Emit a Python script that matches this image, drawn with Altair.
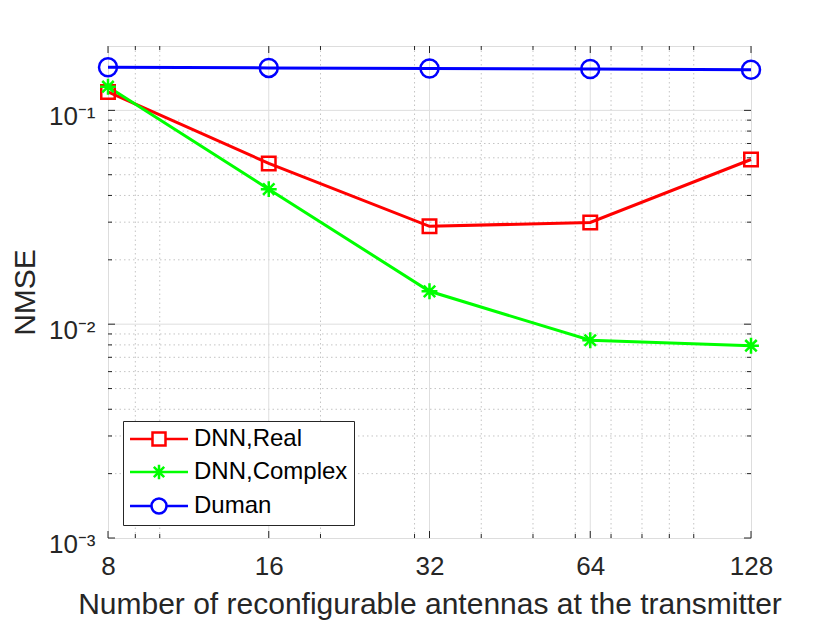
import altair as alt
import pandas as pd

# ---- data ----
N = [8, 16, 32, 64, 128]
dnn_real = [0.122, 0.0565, 0.0287, 0.0299, 0.0589]
dnn_complex = [0.129, 0.0428, 0.01425, 0.00841, 0.00793]
duman = [0.159, 0.158, 0.157, 0.156, 0.155]
SERIES = ["DNN,Real", "DNN,Complex", "Duman"]
COLORS = ["#ff0000", "#00ff00", "#0000ff"]

X_MAJOR = [8, 16, 32, 64, 128]
X_MINOR = [9, 10, 20, 30, 40, 50, 60, 70, 80, 90, 100]
Y_MAJOR = [0.001, 0.01, 0.1]
Y_MINOR = [0.002, 0.003, 0.004, 0.005, 0.006, 0.007, 0.008, 0.009,
           0.02, 0.03, 0.04, 0.05, 0.06, 0.07, 0.08, 0.09]
X_TITLE = "Number of reconfigurable antennas at the transmitter"
Y_TITLE = "NMSE"

W, H = 643, 492
FONT = "Liberation Sans"
AX = "#262626"

rows = []
for name, vals in zip(SERIES, [dnn_real, dnn_complex, duman]):
    for n, v in zip(N, vals):
        rows.append({"N": n, "NMSE": v, "series": name})
df = pd.DataFrame(rows)

xscale = alt.Scale(type="log", base=2, domain=[8, 128], nice=False)
yscale = alt.Scale(type="log", domain=[0.001, 0.2], nice=False)

x_axis = alt.Axis(values=X_MAJOR, ticks=False, grid=False, domain=False,
                  labelFontSize=26, labelPadding=15, labelFlush=False,
                  labelOverlap=False, labelColor=AX, labelFont=FONT,
                  title=X_TITLE, titleFontSize=30, titleFont=FONT,
                  titleFontWeight="normal", titleColor=AX, titlePadding=10)
y_axis = alt.Axis(values=Y_MAJOR, ticks=False, grid=False, domain=False,
                  labelExpr="datum.value < 0.005 ? '10\u207b\u00b3' : (datum.value < 0.05 ? '10\u207b\u00b2' : '10\u207b\u00b9')",
                  labelFontSize=26, labelPadding=13, labelFlush=False,
                  labelOverlap=False, labelColor=AX, labelFont=FONT,
                  labelOffset=6,
                  title=Y_TITLE, titleFontSize=30, titleFont=FONT,
                  titleFontWeight="normal", titleColor=AX, titlePadding=8)

def X(field):
    return alt.X(field, scale=xscale, axis=x_axis)

def Y(field):
    return alt.Y(field, scale=yscale, axis=y_axis)

def vgrid(vals, color, dash):
    d = pd.DataFrame({"v": vals})
    return alt.Chart(d).mark_rule(color=color, strokeWidth=1, strokeDash=dash).encode(x=X("v:Q"))

def hgrid(vals, color, dash):
    d = pd.DataFrame({"v": vals})
    return alt.Chart(d).mark_rule(color=color, strokeWidth=1, strokeDash=dash).encode(y=Y("v:Q"))

def xticks(vals, length):
    d = pd.DataFrame({"v": vals})
    base = alt.Chart(d).mark_rule(color=AX, strokeWidth=1)
    bot = base.encode(x=X("v:Q"), y=alt.value(H), y2=alt.value(H - length))
    top = base.encode(x=X("v:Q"), y=alt.value(0), y2=alt.value(length))
    return [bot, top]

def yticks(vals, length):
    d = pd.DataFrame({"v": vals})
    base = alt.Chart(d).mark_rule(color=AX, strokeWidth=1)
    left = base.encode(y=Y("v:Q"), x=alt.value(0), x2=alt.value(length))
    right = base.encode(y=Y("v:Q"), x=alt.value(W), x2=alt.value(W - length))
    return [left, right]

MINOR_C, MAJOR_C = "#c4c4c4", "#dedede"
grids = [vgrid(X_MINOR, MINOR_C, [1.5, 3]), hgrid(Y_MINOR, MINOR_C, [1.5, 3]),
         vgrid(X_MAJOR[1:-1], MAJOR_C, [1, 0]), hgrid(Y_MAJOR[1:], MAJOR_C, [1, 0])]
ticks = xticks(X_MAJOR, 7) + xticks(X_MINOR, 4) + yticks(Y_MAJOR, 7) + yticks(Y_MINOR, 4)

lines = alt.Chart(df).mark_line(strokeWidth=3).encode(
    x=X("N:Q"), y=Y("NMSE:Q"),
    color=alt.Color("series:N", scale=alt.Scale(domain=SERIES, range=COLORS), legend=None),
    detail="series:N",
)

AST = "M-1,0H1M0,-1V1M-0.72,-0.72L0.72,0.72M-0.72,0.72L0.72,-0.72"
points = alt.Chart(df).mark_point(filled=False, strokeWidth=2.5, opacity=1).encode(
    x=X("N:Q"), y=Y("NMSE:Q"),
    color=alt.Color("series:N", scale=alt.Scale(domain=SERIES, range=COLORS), legend=None),
    shape=alt.Shape("series:N", scale=alt.Scale(domain=SERIES, range=["square", AST, "circle"]), legend=None),
    size=alt.Size("series:N", scale=alt.Scale(domain=SERIES, range=[182, 324, 361]), legend=None),
)

L = 4.46
LEG_PATHS = [
    f"M-{L},0H-1M1,0H{L}M-1,-1H1V1H-1Z",
    f"M-{L},0H{L}M0,-1.1V1.1M-0.8,-0.8L0.8,0.8M-0.8,0.8L0.8,-0.8",
    f"M-{L},0H-1.15M1.15,0H{L}M-1.15,0A1.15,1.15,0,1,1,1.15,0A1.15,1.15,0,1,1,-1.15,0Z",
]
leg = alt.Legend(title=None, orient="none", legendX=15, legendY=375,
                 labelFontSize=24, labelFont=FONT, labelColor="black", labelLimit=500,
                 symbolSize=169, symbolStrokeWidth=2.5, symbolOpacity=1,
                 symbolFillColor="transparent",
                 symbolOffset=18, labelOffset=23, padding=6, rowPadding=8,
                 strokeColor=AX, fillColor="white", cornerRadius=0)
legend_layer = alt.Chart(df).mark_point(filled=False, opacity=0).encode(
    x=X("N:Q"), y=Y("NMSE:Q"),
    color=alt.Color("series:N", scale=alt.Scale(domain=SERIES, range=COLORS), legend=leg),
    shape=alt.Shape("series:N", scale=alt.Scale(domain=SERIES, range=LEG_PATHS), legend=leg),
)

chart = alt.layer(*grids, *ticks, lines, points, legend_layer).resolve_scale(
    color="independent", shape="independent", size="independent"
).properties(
    width=W, height=H,
    padding={"left": 100, "top": 38, "right": 71, "bottom": 84},
    autosize=alt.AutoSizeParams(type="none"),
).configure_view(stroke=AX, strokeWidth=1).configure(background="white")

chart.save("out.html", embed_options={"renderer": "svg", "actions": False})
